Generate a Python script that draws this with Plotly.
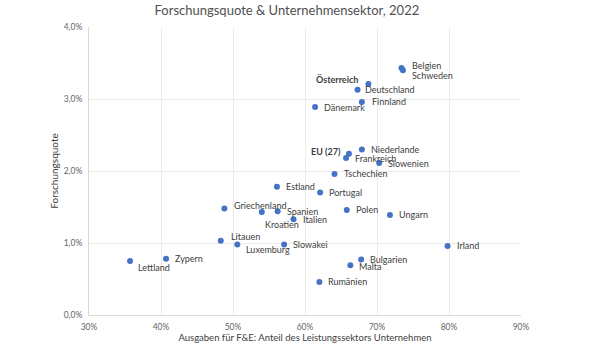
import plotly.graph_objects as go

# Anteil des Unternehmenssektors an den F&E-Ausgaben (%) und Forschungsquote (% des BIP), 2022
laender = [
    "Belgien", "Schweden", "Österreich", "Deutschland", "Finnland", "Dänemark",
    "EU (27)", "Niederlande", "Frankreich", "Slowenien", "Tschechien",
    "Estland", "Portugal", "Griechenland", "Spanien", "Kroatien", "Italien",
    "Polen", "Ungarn", "Litauen", "Luxemburg", "Slowakei", "Irland",
    "Zypern", "Lettland", "Bulgarien", "Malta", "Rumänien",
]
anteil_unternehmen = [
    73.4, 73.6, 68.8, 67.3, 67.9, 61.4,
    66.1, 67.9, 65.7, 70.3, 64.1,
    56.1, 62.1, 48.8, 56.2, 54.0, 58.4,
    65.8, 71.8, 48.3, 50.6, 57.1, 79.8,
    40.7, 35.7, 67.8, 66.3, 62.0,
]
forschungsquote = [
    3.43, 3.40, 3.21, 3.13, 2.96, 2.89,
    2.24, 2.30, 2.18, 2.11, 1.96,
    1.78, 1.70, 1.48, 1.44, 1.43, 1.33,
    1.46, 1.39, 1.03, 0.98, 0.98, 0.96,
    0.78, 0.75, 0.77, 0.69, 0.46,
]

x_ticks = [30, 40, 50, 60, 70, 80, 90]
y_ticks = [0, 1, 2, 3, 4]
x_ticktext = [f"{v}%" for v in x_ticks]
y_ticktext = [f"{v:.1f}%".replace(".", ",") for v in y_ticks]

FONT = "Lato"

# label placement: (anchor, xshift, yshift, bold)
label_style = {
    "Belgien": ("left", 9, 3, False),
    "Schweden": ("left", 7, -5, False),
    "Österreich": ("right", -8, 5, True),
    "Deutschland": ("left", 5, 0, False),
    "Finnland": ("left", 8, 0, False),
    "Dänemark": ("left", 7, -1, False),
    "EU (27)": ("right", -6, 2, True),
    "Griechenland": ("left", 8, 3, False),
    "Kroatien": ("left", 1, -12, False),
    "Italien": ("left", 8, 0, False),
    "Litauen": ("left", 8, 4, False),
    "Luxemburg": ("left", 7, -5, False),
    "Lettland": ("left", 6, -6, False),
    "Malta": ("left", 7, -1, False),
}

fig = go.Figure()
fig.add_trace(go.Scatter(
    x=anteil_unternehmen,
    y=forschungsquote,
    mode="markers",
    marker=dict(size=6, color="#4472C4"),
    hovertext=laender,
    showlegend=False,
))

for name, xv, yv in zip(laender, anteil_unternehmen, forschungsquote):
    anchor, xs, ys, bold = label_style.get(name, ("left", 7, 0, False))
    fig.add_annotation(
        x=xv, y=yv, text=f"<b>{name}</b>" if bold else name,
        showarrow=False, xanchor=anchor, yanchor="middle",
        xshift=xs, yshift=ys,
        font=dict(family=FONT, size=9, color="#404040"),
    )

fig.update_layout(
    width=613, height=345,
    margin=dict(l=89, r=92, t=27, b=30),
    paper_bgcolor="white", plot_bgcolor="white",
    title=dict(
        text="Forschungsquote & Unternehmensektor, 2022",
        x=0.468, xanchor="center", y=0.971, yanchor="middle",
        font=dict(family=FONT, size=13, color="#505050"),
    ),
    font=dict(family=FONT, color="#595959"),
)
fig.update_xaxes(
    range=[30, 90], tickmode="array", tickvals=x_ticks, ticktext=x_ticktext,
    showgrid=True, gridcolor="#ececec", gridwidth=1,
    showline=True, linecolor="#d9d9d9", zeroline=False,
    tickfont=dict(family=FONT, size=8.5, color="#666666"),
    ticklabelstandoff=4,
    automargin=False,
    title=dict(text="Ausgaben für F&E: Anteil des Leistungssektors Unternehmen",
               font=dict(family=FONT, size=9.5, color="#404040"), standoff=3),
)
fig.update_yaxes(
    range=[0, 4], tickmode="array", tickvals=y_ticks, ticktext=y_ticktext,
    showgrid=True, gridcolor="#ececec", gridwidth=1,
    showline=True, linecolor="#d9d9d9", zeroline=False,
    tickfont=dict(family=FONT, size=8.5, color="#666666"),
    ticklabelstandoff=4,
    automargin=False,
    title=dict(text="Forschungsquote", font=dict(family=FONT, size=10, color="#404040"), standoff=3),
)

fig.write_html("out.html")
